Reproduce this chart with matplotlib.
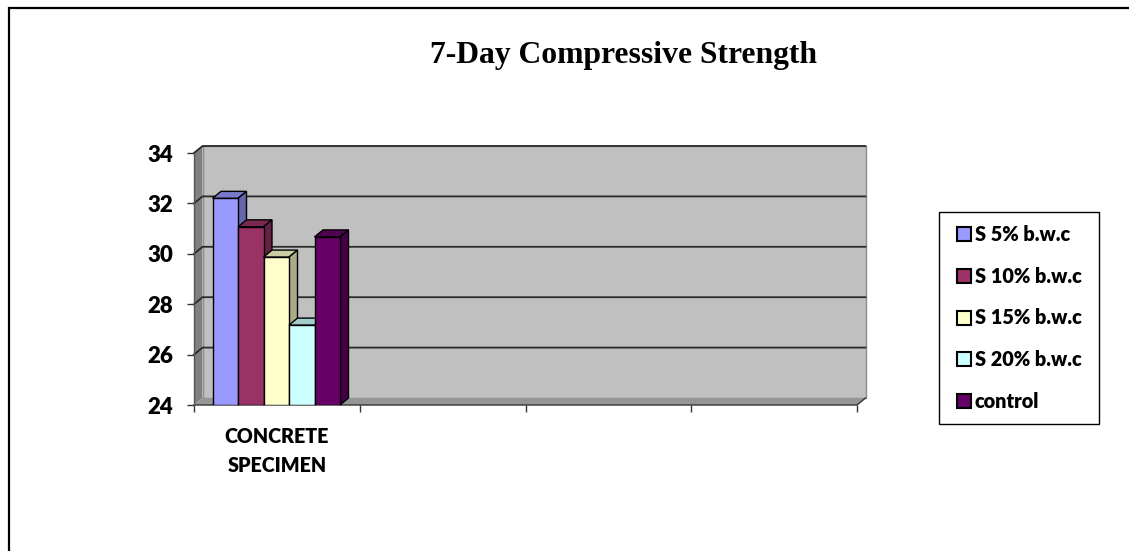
import matplotlib
matplotlib.use('Agg')
import matplotlib.pyplot as plt
from matplotlib.lines import Line2D
from matplotlib.patches import Patch, Rectangle

# data
categories = ['CONCRETE\nSPECIMEN', '', '', '']
series_names = ['S 5% b.w.c', 'S 10% b.w.c', 'S 15% b.w.c', 'S 20% b.w.c', 'control']
series_values = [32.2, 31.07, 29.87, 27.17, 30.67]
y_ticks = [24, 26, 28, 30, 32, 34]

front_colors = ['#9999ff', '#993366', '#ffffcc', '#ccffff', '#660066']
top_colors = ['#7a7acc', '#7a2952', '#ccccA3', '#a3cccc', '#520052']
side_colors = ['#6666aa', '#662244', '#aaaa88', '#88aaaa', '#440044']

W, H = 1129, 551
LEFT, RIGHT, TOP, BOTTOM = 194, 857, 153, 405
DX, DY = 8.5, 7   # depth of the 3d box, pixels

plt.rcParams['font.family'] = ['Lato', 'DejaVu Sans']
plt.rcParams['font.weight'] = 'heavy'

fig = plt.figure(figsize=(W / 100, H / 100), dpi=100)
ax = fig.add_axes([LEFT / W, 1 - BOTTOM / H, (RIGHT - LEFT) / W, (BOTTOM - TOP) / H])
ax.set_xlim(0, len(categories))
ax.set_ylim(y_ticks[0], y_ticks[-1])
for s in ax.spines.values():
    s.set_visible(False)

# depth expressed in data units
x_per_px = len(categories) / (RIGHT - LEFT)
y_per_px = (y_ticks[-1] - y_ticks[0]) / (BOTTOM - TOP)
dx, dy = DX * x_per_px, DY * y_per_px
x0, x1 = ax.get_xlim()
y0, y1 = ax.get_ylim()

# walls and floor
ax.fill([x0 + dx, x1 + dx, x1 + dx, x0 + dx], [y0 + dy, y0 + dy, y1 + dy, y1 + dy],
        color='#c0c0c0', ec='#8c8c8c', lw=1, clip_on=False, zorder=1)
ax.fill([x0, x0 + dx, x0 + dx, x0], [y0, y0 + dy, y1 + dy, y1],
        color='#808080', lw=0, clip_on=False, zorder=1)
ax.fill([x0, x1, x1 + dx, x0 + dx], [y0, y0, y0 + dy, y0 + dy],
        color='#969696', lw=0, clip_on=False, zorder=1)

# gridlines run across the back wall and down the left wall
for t in y_ticks[1:]:
    ax.plot([x0, x0 + dx, x1 + dx], [t, t + dy, t + dy], color='#2b2b2b', lw=1.3,
            clip_on=False, zorder=2, solid_joinstyle='miter')
ax.plot([x0, x1, x1 + dx], [y0, y0, y0 + dy], color='#333333', lw=1, clip_on=False, zorder=2)
ax.plot([x0, x0], [y0, y1], color='#555555', lw=1, clip_on=False, zorder=2)

# grouped bars for the first category, with faked depth faces
bar_w = 25.5 * x_per_px
start = 18.5 * x_per_px
for i, v in enumerate(series_values):
    left = start + i * bar_w
    # draw later bars on top of the side face of earlier ones
    z = 3 + i * 0.1
    ax.bar(left, v - y0, bar_w, bottom=y0, align='edge', color=front_colors[i],
           ec='black', lw=1, zorder=z + 0.05)
    right = left + bar_w
    ax.fill([left, right, right + dx, left + dx], [v, v, v + dy, v + dy],
            fc=top_colors[i], ec='black', lw=1, clip_on=False, zorder=z)
    ax.fill([right, right + dx, right + dx, right], [y0, y0 + dy, v + dy, v],
            fc=side_colors[i], ec='black', lw=1, clip_on=False, zorder=z)

ax.set_xticks(range(len(categories) + 1))
ax.set_xticklabels([])
ax.set_xticks([k + 0.5 for k in range(len(categories))], minor=True)
ax.set_xticklabels(categories, minor=True, fontsize=14.2, fontweight='heavy', linespacing=1.6)
ax.tick_params(axis='x', which='minor', length=0, pad=16)
ax.tick_params(axis='x', which='major', length=5, width=1, color='#333333')
ax.set_yticks(y_ticks)
ax.tick_params(axis='y', length=5, width=1, color='#333333', labelsize=16, pad=10)

fig.text(623 / W, 1 - 56 / H, '7-Day Compressive Strength', family='Liberation Serif',
         fontweight='bold', fontsize=22.8, ha='center', va='center')

# legend box is drawn separately, its padding differs between width and height
fig.add_artist(Rectangle((939 / W, 1 - 424 / H), 160 / W, 212 / H, transform=fig.transFigure,
                         fc='white', ec='black', lw=1))
handles = [Patch(fc=c, ec='black', lw=1.5) for c in front_colors]
leg = fig.legend(handles, series_names, loc='center left', bbox_to_anchor=(949 / W, 1 - 318 / H),
                 frameon=False, fontsize=14.3, handlelength=0.7, handleheight=0.7,
                 handletextpad=0.2, labelspacing=1.15, borderaxespad=0)

# the chart frame only shows on the left and top
fig.add_artist(Line2D([8.5 / W, 8.5 / W, 1], [0, 1 - 8 / H, 1 - 8 / H],
                      color='black', lw=1.6, solid_joinstyle='miter'))

fig.savefig('out.png', dpi=100)
